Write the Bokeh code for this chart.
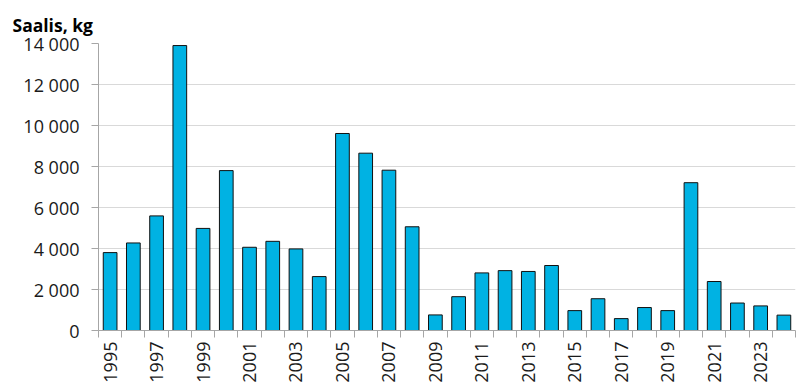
from bokeh.plotting import figure
from bokeh.models import Range1d, FixedTicker, CustomJSTickFormatter
from bokeh.embed import file_html
from bokeh.resources import INLINE
import math

years = list(range(1995, 2025))
catch_kg = [3800, 4270, 5590, 13900, 4980, 7800, 4060, 4350, 3980, 2630,
            9610, 8650, 7820, 5060, 760, 1650, 2810, 2920, 2880, 3170,
            970, 1550, 580, 1120, 970, 7210, 2390, 1340, 1200, 750]
y_ticks = [0, 2000, 4000, 6000, 8000, 10000, 12000, 14000]
x_label_years = list(range(1995, 2025, 2))

FONT = "Open Sans"

p = figure(width=796, height=388, output_backend="svg", toolbar_location=None,
           x_range=Range1d(1994.5, 2024.5), y_range=Range1d(0, 14000),
           min_border_left=98, min_border_right=1, min_border_top=43,
           min_border_bottom=58)

p.vbar(x=years, top=catch_kg, width=0.59, fill_color="#00b2e3",
       line_color="#111111", line_width=1)

p.outline_line_color = None
p.xgrid.grid_line_color = None
p.ygrid.grid_line_color = "#d9d9d9"
p.ygrid.grid_line_width = 1

# y axis
p.yaxis.ticker = FixedTicker(ticks=y_ticks)
p.yaxis.formatter = CustomJSTickFormatter(code="""
return Math.round(tick).toString().replace(/\\B(?=(\\d{3})+(?!\\d))/g, "\\u00a0");
""")
p.yaxis.axis_line_color = "#a6a6a6"
p.yaxis.major_tick_line_color = "#a6a6a6"
p.yaxis.major_tick_out = 7
p.yaxis.major_tick_in = 0
p.yaxis.minor_tick_line_color = None
p.yaxis.major_label_standoff = 12
p.yaxis.major_label_text_font = FONT
p.yaxis.major_label_text_font_size = "18px"
p.yaxis.major_label_text_color = "#1a1a1a"

# x axis
bounds = [y - 0.5 for y in years] + [years[-1] + 0.5]
p.xaxis.ticker = FixedTicker(ticks=x_label_years, minor_ticks=bounds)
p.xaxis.axis_line_color = "#a6a6a6"
p.xaxis.major_tick_line_color = None
p.xaxis.major_tick_out = 7
p.xaxis.major_tick_in = 0
p.xaxis.minor_tick_line_color = "#a6a6a6"
p.xaxis.minor_tick_out = 7
p.xaxis.minor_tick_in = 0
p.xaxis.major_label_orientation = math.pi / 2
p.xaxis.major_label_standoff = 4
p.xaxis.major_label_text_font = FONT
p.xaxis.major_label_text_font_size = "18px"
p.xaxis.major_label_text_color = "#1a1a1a"

p.title.text = "Saalis, kg"
p.title.text_font = FONT
p.title.text_font_style = "bold"
p.title.text_font_size = "17.5px"
p.title.text_color = "#000000"
p.title.align = "left"
p.title.offset = -86
p.title.standoff = 13

open("out.html", "w").write(file_html(p, INLINE))
